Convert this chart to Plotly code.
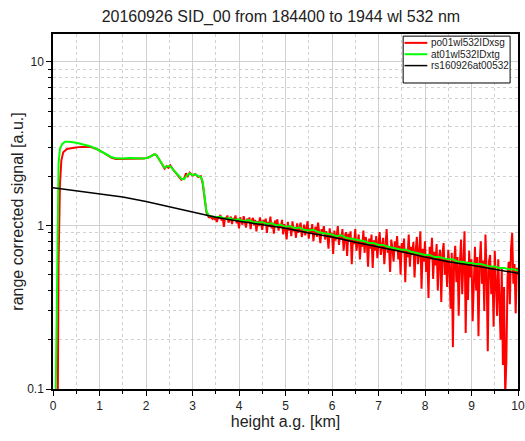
import numpy as np
import plotly.graph_objects as go

# molecular reference (rs160926at00532)
h_mol = [0.0, 0.5, 1.0, 1.5, 2.0, 2.5, 3.0, 3.5, 4.0, 4.5, 5.0, 5.5, 6.0, 6.5,
         7.0, 7.5, 8.0, 8.5, 9.0, 9.5, 10.0]
sig_mol = [1.70, 1.63, 1.57, 1.49, 1.40, 1.30, 1.20, 1.12, 1.06, 1.01, 0.96,
           0.90, 0.85, 0.79, 0.74, 0.69, 0.64, 0.60, 0.57, 0.54, 0.51]

# at01wl532IDxtg, near range
h_at_near = [0.05, 0.08, 0.10, 0.12, 0.15, 0.20, 0.26, 0.35, 0.50, 0.65, 0.80,
             0.95, 1.05, 1.15, 1.25, 1.35, 1.50, 1.65, 1.80, 1.95, 2.05, 2.12,
             2.18, 2.22, 2.28, 2.34, 2.40, 2.46, 2.52, 2.58, 2.64, 2.70, 2.76,
             2.82, 2.88, 2.94, 3.00, 3.06, 3.12, 3.18, 3.22, 3.26, 3.30, 3.35]
sig_at_near = [0.06, 0.4, 1.2, 2.4, 2.95, 3.15, 3.25, 3.25, 3.20, 3.12, 3.05,
               2.92, 2.82, 2.72, 2.62, 2.57, 2.56, 2.58, 2.56, 2.56, 2.60, 2.66,
               2.72, 2.70, 2.55, 2.38, 2.25, 2.30, 2.30, 2.20, 2.12, 2.02, 1.93,
               1.92, 2.02, 2.08, 2.03, 2.05, 2.00, 1.98, 1.85, 1.45, 1.22, 1.15]
# at01wl532IDxtg, far range (3.4 - 10 km every 0.1 km)
sig_at_far = [1.14, 1.12, 1.13, 1.10, 1.11, 1.08,
              1.09, 1.06, 1.08, 1.05, 1.04, 1.05, 1.02, 1.03, 1.00, 1.01,
              0.98, 0.99, 0.96, 0.97, 0.94, 0.93, 0.94, 0.91, 0.90, 0.89,
              0.88, 0.86, 0.87, 0.84, 0.83, 0.82, 0.81, 0.80, 0.78, 0.78,
              0.76, 0.76, 0.74, 0.73, 0.72, 0.71, 0.71, 0.69, 0.68, 0.67,
              0.66, 0.66, 0.64, 0.64, 0.63, 0.62, 0.62, 0.60, 0.60, 0.59,
              0.59, 0.58, 0.58, 0.57, 0.56, 0.56, 0.55, 0.55, 0.54, 0.54,
              0.53]

# po01wl532IDxsg, near range
h_po_near = [0.10, 0.12, 0.15, 0.18, 0.22, 0.30, 0.45, 0.60, 0.80, 0.95, 1.05,
             1.15, 1.25, 1.35, 1.50, 1.65, 1.80, 1.95, 2.05, 2.12, 2.18, 2.22,
             2.28, 2.34, 2.40, 2.44, 2.48, 2.52, 2.58, 2.64, 2.70, 2.76, 2.82,
             2.86, 2.90, 2.94, 3.00, 3.06, 3.12, 3.18, 3.22, 3.26, 3.30, 3.35]
sig_po_near = [0.06, 0.6, 1.8, 2.5, 2.8, 2.93, 2.98, 3.02, 3.02, 2.92, 2.82,
               2.70, 2.60, 2.55, 2.55, 2.57, 2.55, 2.56, 2.60, 2.66, 2.72, 2.70,
               2.55, 2.38, 2.22, 2.30, 2.25, 2.33, 2.20, 2.10, 2.02, 1.90, 1.94,
               2.08, 2.00, 2.10, 2.02, 2.06, 1.98, 2.00, 1.80, 1.40, 1.20, 1.12]
# po01wl532IDxsg, far range (3.4 - 10 km every 25 m)
sig_po_far = [
    1.12, 1.10, 1.14, 1.08, 1.12, 1.05, 1.13, 1.10, 1.16, 1.07, 1.11, 0.98, 1.12, 1.09, 1.15, 1.04, 1.10, 1.13, 1.02, 1.11,
    1.08, 1.15, 1.03, 1.10, 0.96, 1.12, 1.06, 1.01, 1.14, 1.05, 0.97, 1.10, 1.04, 1.12, 0.95, 1.07, 1.11, 1.00, 1.08, 0.92,
    1.06, 0.99, 1.12, 1.03, 0.94, 1.08, 1.02, 1.10, 0.90, 1.05, 0.98, 1.13, 0.96, 1.04, 0.89, 1.07, 1.00, 1.09, 0.93, 1.02,
    0.97, 1.08, 0.88, 1.02, 0.95, 0.82, 1.05, 0.93, 1.00, 0.86, 1.06, 0.92, 0.98, 0.84, 1.03, 0.90, 0.96, 1.04, 0.85, 0.95,
    1.01, 0.87, 0.94, 1.06, 0.83, 0.96, 0.89, 1.02, 0.80, 0.93, 0.98, 0.85, 1.04, 0.88, 0.78, 0.95, 0.90, 0.99, 0.82, 0.92,
    0.87, 0.72, 0.96, 0.84, 0.90, 0.67, 0.93, 0.81, 0.86, 0.99, 0.76, 0.88, 0.83, 0.95, 0.70, 0.85, 0.91, 0.65, 0.89, 0.80,
    0.92, 0.58, 0.84, 0.77, 0.95, 0.70, 0.82, 0.88, 0.62, 0.80, 0.74, 0.93, 0.68, 0.85, 0.78, 0.56, 0.83, 0.72, 0.88, 0.55,
    0.81, 0.70, 0.86, 0.63, 0.78, 0.91, 0.66, 0.76, 0.84, 0.58, 0.79, 0.95, 0.68, 0.74, 0.52, 0.82, 0.72, 0.60, 0.80, 0.70,
    0.86, 0.62, 0.75, 0.50, 0.78, 0.68, 0.83, 0.45, 0.72, 0.64, 0.88, 0.56, 0.74, 0.66, 0.79, 0.48, 0.70, 0.85, 0.58, 0.68,
    0.92, 0.41, 0.72, 0.60, 0.80, 0.52, 0.66, 0.36, 0.74, 0.62, 0.84, 0.47, 0.69, 0.57, 0.77, 0.40, 0.64, 0.71, 0.34, 0.66,
    0.78, 0.50, 0.63, 0.42, 0.71, 0.56, 0.31, 0.68, 0.18, 0.60, 0.75, 0.45, 0.64, 0.28, 0.58, 0.82, 0.38, 0.66, 0.92, 0.22,
    0.60, 0.35, 0.70, 0.48, 0.62, 0.26, 0.55, 0.74, 0.40, 0.64, 0.21, 0.58, 0.80, 0.44, 0.61, 0.30, 0.88, 0.52, 0.17, 0.60,
    0.66, 0.38, 0.56, 0.24, 0.70, 0.45, 0.28, 0.62, 0.32, 0.20, 0.55, 0.14, 0.42, 0.09, 0.15, 0.48, 0.60, 0.33, 0.72, 0.90,
    0.44, 0.58, 0.29, 0.55, 0.50]

# range bins
h_at_far = np.round(np.arange(3.4, 10.0001, 0.1), 3)
h_po_far = np.round(np.arange(3.4, 10.0001, 0.025), 3)

names = ['po01wl532IDxsg', 'at01wl532IDxtg', 'rs160926at00532']
colors = ['#ff0000', '#00ff00', '#000000']
widths = [2, 2, 1.5]

fig = go.Figure()
fig.add_trace(go.Scatter(x=list(h_po_near) + list(h_po_far),
                         y=sig_po_near + sig_po_far, mode='lines', name=names[0],
                         line=dict(color=colors[0], width=widths[0])))
fig.add_trace(go.Scatter(x=list(h_at_near) + list(h_at_far),
                         y=sig_at_near + sig_at_far, mode='lines', name=names[1],
                         line=dict(color=colors[1], width=widths[1])))
fig.add_trace(go.Scatter(x=h_mol, y=sig_mol, mode='lines', name=names[2],
                         line=dict(color=colors[2], width=widths[2])))

fig.update_layout(
    width=525, height=441,
    margin=dict(l=53, r=7, t=34, b=52),
    paper_bgcolor='white', plot_bgcolor='white',
    font=dict(family='Liberation Sans, Arial', size=12, color='#222222'),
    title=dict(text='20160926 SID_00 from 184400 to 1944 wl 532 nm',
               x=0.535, xanchor='center', y=0.962, yanchor='middle',
               font=dict(size=16, color='#222222')),
    showlegend=False,
)

# compact legend box (plotly's own legend rows are too tall)
fig.add_shape(type='rect', xref='paper', yref='paper',
              x0=0.753, x1=0.983, y0=0.862, y1=0.994,
              fillcolor='white', line=dict(color='black', width=1))
for i, (nm, c, w) in enumerate(zip(names, colors, widths)):
    yy = 0.975 - i * 0.032
    fig.add_shape(type='line', xref='paper', yref='paper',
                  x0=0.756, x1=0.805, y0=yy, y1=yy,
                  line=dict(color=c, width=w))
    fig.add_annotation(xref='paper', yref='paper', x=0.808, y=yy,
                       xanchor='left', yanchor='middle', showarrow=False,
                       text=nm, font=dict(size=10, color='#222222'))

fig.update_xaxes(
    range=[0, 10], dtick=1, tick0=0, automargin=False,
    showline=True, linecolor='black', linewidth=1.5, mirror=True,
    ticks='outside', ticklen=5, tickcolor='black',
    showgrid=True, gridcolor='#d0d0d0', gridwidth=1, zeroline=False,
    minor=dict(dtick=0.5, ticks='outside', ticklen=3, tickcolor='black',
               showgrid=True, gridcolor='#d0d0d0', griddash='dot'),
    title=dict(text='height a.g. [km]', font=dict(size=16), standoff=3),
)

minor_y = [m * d for d in (0.1, 1, 10) for m in range(2, 10)]
fig.update_yaxes(
    type='log', range=[-1, 1.17], automargin=False,
    tickvals=[0.1, 1, 10], ticktext=['0.1', '1', '10'],
    showline=True, linecolor='black', linewidth=1.5, mirror=True,
    ticks='outside', ticklen=5, tickcolor='black',
    showgrid=True, gridcolor='#d0d0d0', gridwidth=1, zeroline=False,
    minor=dict(tickvals=minor_y, ticks='outside', ticklen=3, tickcolor='black',
               showgrid=True, gridcolor='#d0d0d0', griddash='dot'),
    title=dict(text='range corrected signal [a.u.]', font=dict(size=16),
               standoff=0),
)

fig.write_html("out.html", config={'displayModeBar': False},
               post_script="document.body.style.margin='0';")
